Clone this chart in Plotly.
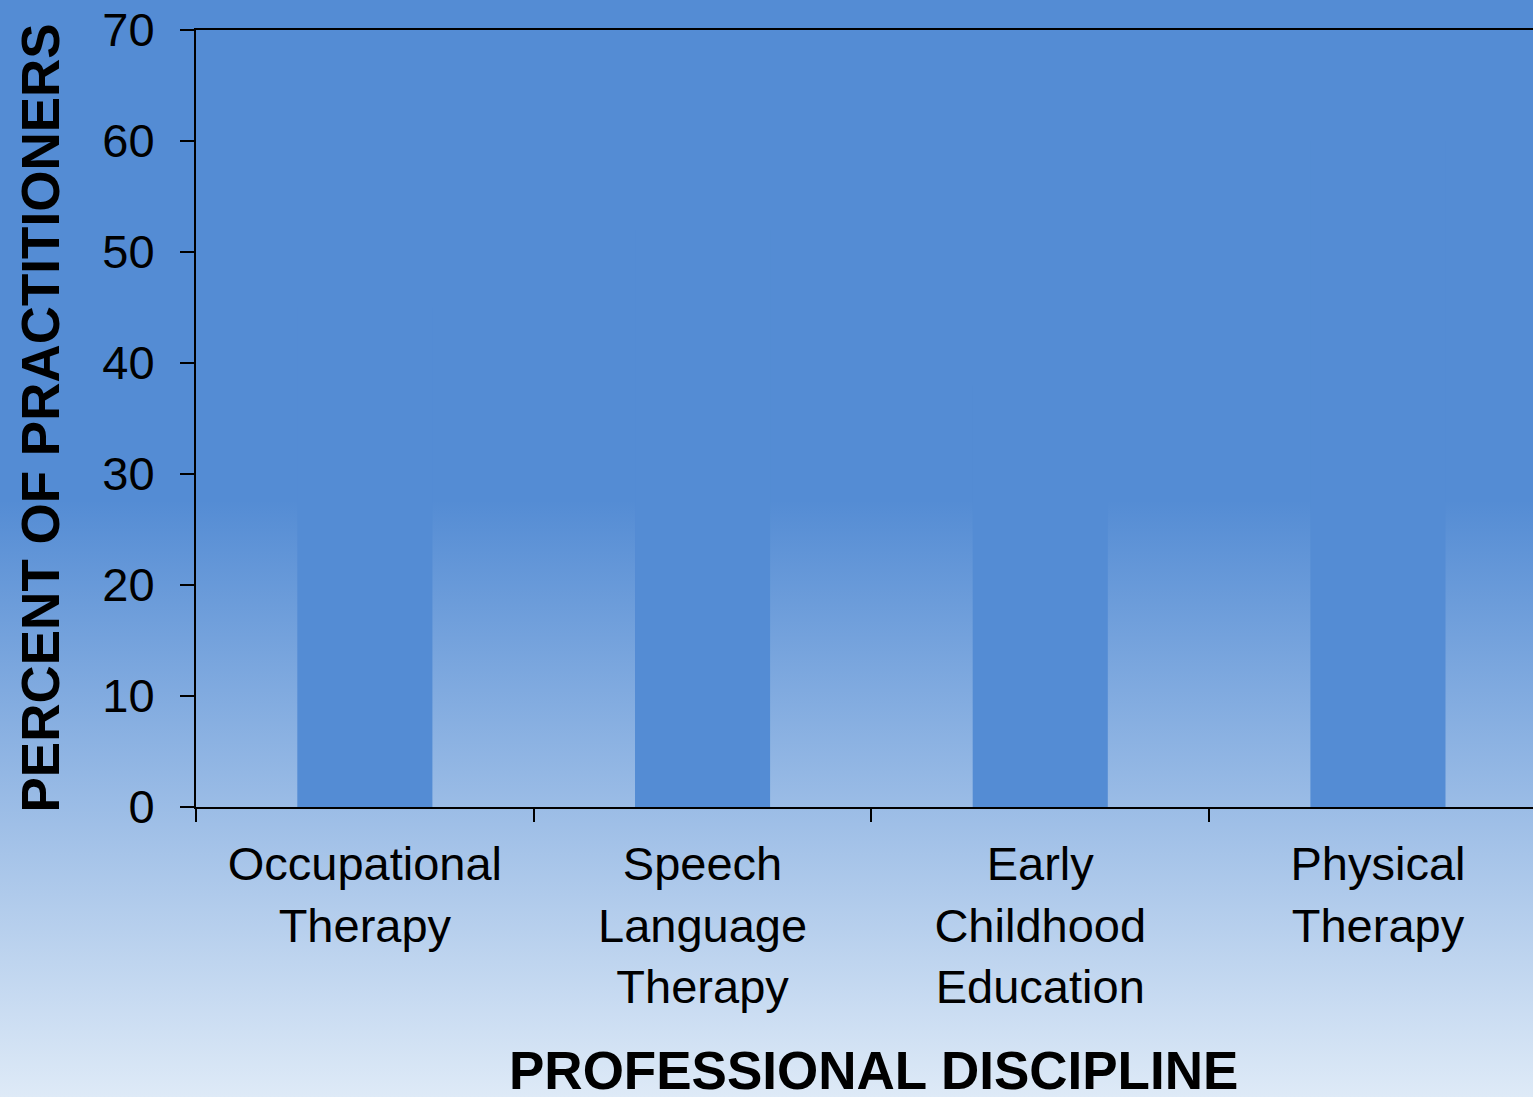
import base64
import plotly.graph_objects as go

BLUE = "#548CD4"
LIGHT = "#DEEAF7"

# categories and values (bars blend into the solid top of the background)
disciplines = [
    "Occupational<br>Therapy",
    "Speech<br>Language<br>Therapy",
    "Early<br>Childhood<br>Education",
    "Physical<br>Therapy",
]
percent = [45, 52, 38, 60]
y_ticks = [0, 10, 20, 30, 40, 50, 60, 70]

W, H = 1533, 1097
L, T, B = 196, 30, 290
PW, PH = W - L, H - T - B

svg = f"""<svg xmlns='http://www.w3.org/2000/svg' width='{W}' height='{H}' preserveAspectRatio='none'>
<defs><linearGradient id='g' x1='0' y1='0' x2='0' y2='1'>
<stop offset='0' stop-color='{BLUE}'/><stop offset='0.456' stop-color='{BLUE}'/>
<stop offset='1' stop-color='{LIGHT}'/></linearGradient></defs>
<rect width='{W}' height='{H}' fill='url(#g)'/></svg>"""
bg_uri = "data:image/svg+xml;base64," + base64.b64encode(svg.encode()).decode()

fig = go.Figure(
    go.Bar(x=disciplines, y=percent, width=0.4, marker=dict(color=BLUE, line_width=0))
)

font = dict(family="Liberation Sans, Arial, sans-serif", color="black")

fig.update_layout(
    width=W,
    height=H,
    margin=dict(l=L, r=0, t=T, b=B, pad=0),
    paper_bgcolor=LIGHT,
    plot_bgcolor="rgba(0,0,0,0)",
    showlegend=False,
    font=dict(**font, size=47),
    images=[
        dict(
            source=bg_uri,
            xref="paper",
            yref="paper",
            x=-L / PW,
            y=1 + T / PH,
            sizex=W / PW,
            sizey=H / PH,
            sizing="stretch",
            xanchor="left",
            yanchor="top",
            layer="below",
        )
    ],
    annotations=[
        dict(
            text="<b>PROFESSIONAL DISCIPLINE</b>",
            xref="paper",
            yref="paper",
            x=(873 - L) / PW,
            y=(H - B - 1070) / PH,
            xanchor="center",
            yanchor="middle",
            showarrow=False,
            font=dict(**font, size=53),
        ),
        dict(
            text="<b>PERCENT OF PRACTITIONERS</b>",
            xref="paper",
            yref="paper",
            x=(40 - L) / PW,
            y=0.5,
            xanchor="center",
            yanchor="middle",
            textangle=-90,
            showarrow=False,
            font=dict(**font, size=53),
        ),
    ],
)

fig.update_xaxes(
    type="category",
    range=[-0.5, -0.5 + PW / 337.7],
    showline=True,
    linecolor="black",
    linewidth=2,
    mirror=True,
    ticks="outside",
    tickson="boundaries",
    ticklen=13,
    tickwidth=2,
    tickcolor="black",
    showgrid=False,
    zeroline=False,
    ticklabelstandoff=15,
)

fig.update_yaxes(
    range=[0, 70],
    tickvals=y_ticks,
    showline=True,
    linecolor="black",
    linewidth=2,
    ticks="outside",
    ticklen=14,
    tickwidth=1.5,
    tickcolor="black",
    showgrid=False,
    zeroline=False,
    ticklabelstandoff=16,
)

fig.write_html(
    "out.html",
    config={"displayModeBar": False},
    post_script="document.body.style.margin='0';",
)
